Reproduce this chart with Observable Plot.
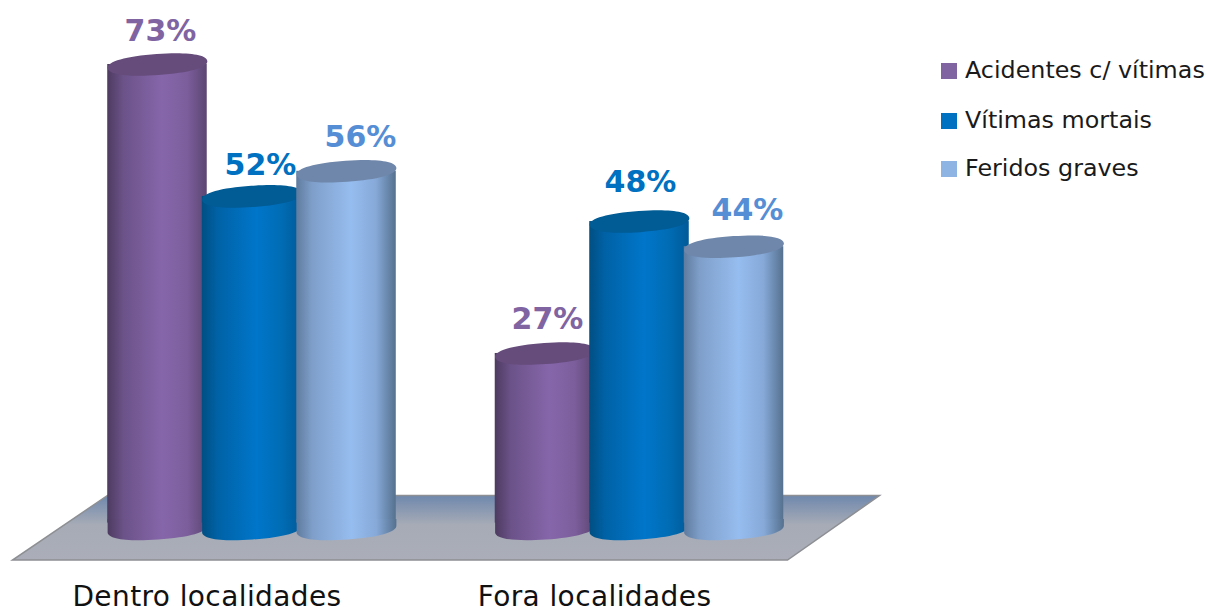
<!DOCTYPE html>
<html>
<head>
<meta charset="utf-8">
<script src="https://cdn.jsdelivr.net/npm/d3@7"></script>
<script src="https://cdn.jsdelivr.net/npm/@observablehq/plot@0.6"></script>
<style>
html,body{margin:0;padding:0;background:#fff;}
#wrap{position:relative;width:1208px;height:613px;overflow:hidden;}
#legend{position:absolute;left:941px;top:0;font-family:"DejaVu Sans",sans-serif;font-size:23.8px;color:#1a1a1a;}
.row{position:absolute;left:0;white-space:nowrap;height:24px;line-height:24px;}
.sw{position:absolute;left:0;top:4px;width:16px;height:16px;}
.lb{position:absolute;left:24px;top:-1px;}
</style>
</head>
<body>
<div id="wrap"><div id="chart"></div><div id="legend"></div></div>
<script>
const groups = ["Dentro localidades", "Fora localidades"];
const series = ["Acidentes c/ vítimas", "Vítimas mortais", "Feridos graves"];
const dentro = [73, 52, 56];
const fora = [27, 48, 44];

// styling
const labelColors = ["#8064a2", "#0070c0", "#558ed5"];
const legendColors = ["#8064a2", "#0070c0", "#8eb4e3"];
const capColors = ["#654c7b", "#015b95", "#6f87aa"];
const bodyStops = [
  ["#4d3b60", "#6b5288", "#8666aa", "#7c5e9c", "#5c4672"],
  ["#004f82", "#0062a6", "#0076ca", "#006cb4", "#005a98"],
  ["#5f7b9e", "#7f9fca", "#96bdef", "#86a9d8", "#56718f"]
];
const stopOffsets = [0, 0.16, 0.55, 0.8, 1];
const labelShift = [[3, -33], [8.5, -31], [14, -34], [2.5, -34], [1, -39], [13.5, -36]];

const rows = [];
groups.forEach((g, gi) => series.forEach((s, si) => rows.push({
  group: g, series: s, si, idx: gi * 3 + si, value: (gi ? fora : dentro)[si]
})));

function rotatedPoint(deg) {
  const a = deg * Math.PI / 180, c = Math.cos(a), s = Math.sin(a);
  return (x, y) => [x * c - y * s, x * s + y * c];
}
const tilt = rotatedPoint(-4);
const RX = 50, RY = 10.6, K = 0.62;
const topCap = {
  draw(ctx) {
    const seg = (a, b, e) => ctx.bezierCurveTo(...tilt(...a), ...tilt(...b), ...tilt(...e));
    ctx.moveTo(...tilt(RX, 0));
    seg([RX, K * RY], [K * RX, RY], [0, RY]);
    seg([-K * RX, RY], [-RX, K * RY], [-RX, 0]);
    seg([-RX, -K * RY], [-K * RX, -RY], [0, -RY]);
    seg([K * RX, -RY], [RX, -K * RY], [RX, 0]);
    ctx.closePath();
  }
};
const bottomCap = {
  draw(ctx) {
    const seg = (a, b, e) => ctx.bezierCurveTo(...tilt(...a), ...tilt(...b), ...tilt(...e));
    const start = tilt(RX, 0), end = tilt(-RX, 0);
    ctx.moveTo(start[0], -10);
    ctx.lineTo(...start);
    seg([RX, K * RY], [K * RX, RY], [0, RY]);
    seg([-K * RX, RY], [-RX, K * RY], [-RX, 0]);
    ctx.lineTo(end[0], -10);
    ctx.closePath();
  }
};
const floorShape = {
  draw(ctx) {
    ctx.moveTo(-144.5, -27.6);
    ctx.lineTo(627.5, -27.6);
    ctx.lineTo(535.5, 37);
    ctx.lineTo(-239.5, 37);
    ctx.closePath();
  }
};

function defs() {
  const d = d3.create("svg:defs");
  bodyStops.forEach((stops, i) => {
    const g = d.append("linearGradient").attr("id", "body" + i).attr("x1", 0).attr("x2", 1).attr("y1", 0).attr("y2", 0);
    stopOffsets.forEach((o, j) => g.append("stop").attr("offset", o).attr("stop-color", stops[j]));
  });
  const f = d.append("linearGradient").attr("id", "floor").attr("x1", 0).attr("x2", 0).attr("y1", 0).attr("y2", 1);
  [[0, "#6f88ad"], [0.45, "#a6abb6"], [1, "#abaeb8"]].forEach(([o, c]) => f.append("stop").attr("offset", o).attr("stop-color", c));
  return d.node();
}

const marks = [
  defs,
  Plot.dot([rows[1]], {
    x: "series", y: () => 0, fx: "group", symbol: floorShape, r: 1,
    fill: "url(#floor)", stroke: "#8d8f93", strokeWidth: 1.5
  })
];
series.forEach((s, si) => {
  const part = rows.filter(d => d.si === si);
  marks.push(
    Plot.barY(part, {
      x: "series", y: "value", fx: "group", fill: `url(#body${si})`,
      insetLeft: -2.5, insetRight: -2.5
    }),
    Plot.dot(part, {
      x: "series", y: () => 0, dy: 5.8, fx: "group", symbol: bottomCap, r: 1,
      fill: `url(#body${si})`, stroke: null
    }),
    Plot.dot(part, {
      x: "series", y: "value", fx: "group", symbol: topCap, r: 1,
      fill: capColors[si], stroke: null
    })
  );
});
rows.forEach(d => {
  marks.push(Plot.text([d], {
    x: "series", y: "value", fx: "group", text: r => r.value + "%",
    dx: labelShift[d.idx][0], dy: labelShift[d.idx][1],
    fill: labelColors[d.si], fontSize: 30, fontWeight: "bold",
    fontFamily: "DejaVu Sans"
  }));
});
marks.push(Plot.axisFx({
  anchor: "bottom", tickSize: 0, tickPadding: 12.5, dx: -45, label: null,
  fontSize: 28, fontFamily: "DejaVu Sans", fill: "#111"
}));

const chart = Plot.plot({
  width: 1208,
  height: 613,
  marginLeft: 57.75,
  marginRight: 375.25,
  marginTop: 0,
  marginBottom: 40,
  style: {background: "#fff", overflow: "visible"},
  fx: {domain: groups, padding: 0, round: false, label: null},
  x: {domain: series, paddingInner: 0, paddingOuter: 0.55, round: false, axis: null},
  y: {domain: [0, 73], range: [522.6, 64], axis: null},
  marks
});
d3.select(chart).selectAll("text").filter(function () {
  return groups.includes(this.textContent);
}).attr("letter-spacing", "0.4px");
document.getElementById("chart").appendChild(chart);

const legendTops = [59, 109, 157];
const legend = d3.select("#legend");
series.forEach((s, i) => {
  const r = legend.append("div").attr("class", "row").style("top", legendTops[i] + "px");
  r.append("div").attr("class", "sw").style("background", legendColors[i]);
  r.append("div").attr("class", "lb").text(s);
});
</script>
</body>
</html>
